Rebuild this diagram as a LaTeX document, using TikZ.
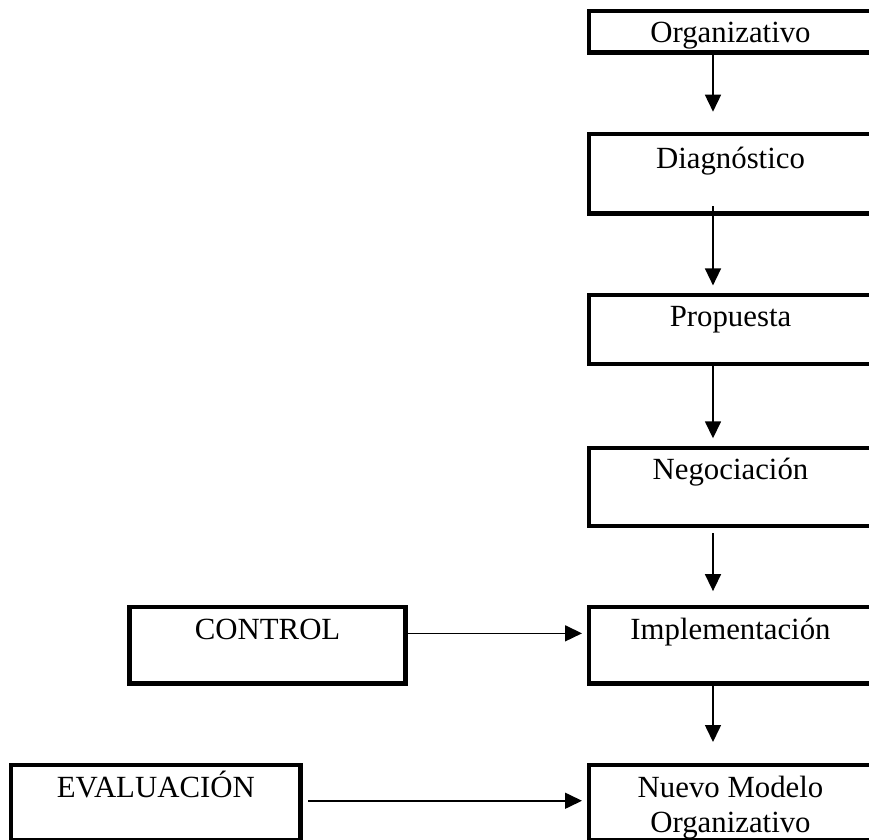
\documentclass[tikz,border=0pt]{standalone}
\usepackage{fontspec}
\setmainfont{Liberation Serif}
\usetikzlibrary{positioning, arrows.meta}
\tikzstyle{stage} = [
    rectangle,
    draw=black,
    line width=2.2pt,
    minimum width=141.5pt,
    inner ysep=0pt,
    text height=16pt,
    text depth=22.5pt,
    align=center,
    font=\fontsize{15.4pt}{17.5pt}\selectfont
]
\tikzstyle{arrow} = [line width=0.8pt,-{Triangle[length=8.5pt,width=8pt]}]

\begin{document}
\begin{tikzpicture}[node distance=38.5pt]
\useasboundingbox (0,0) rectangle (434.5pt,-420pt);
\clip (0,0) rectangle (434.5pt,-420pt);

\node (organizativo) [stage, text depth=4.75pt, anchor=north west] at (293.4pt,-4.4pt)
{Organizativo};

\node (diagnostico) [stage, text height=17.5pt, text depth=22.25pt, below=of organizativo]
{Diagnóstico};

\node (propuesta) [stage, text depth=18.75pt, below=of diagnostico]
{Propuesta};

\node (negociacion) [stage, text depth=23pt, below=39.5pt of propuesta]
{Negociación};

\node (implementacion) [stage, text depth=22.25pt, below=of negociacion]
{Implementación};

\node (nuevo) [stage, text height=33.5pt, text depth=4.25pt, below=of implementacion]
{Nuevo Modelo\\Organizativo};

\node (control) [stage, text depth=22.25pt, minimum width=138pt, left=89.5pt of implementacion]
{CONTROL};

\node (evaluacion) [stage, text depth=21.75pt, minimum width=144.75pt, left=142pt of nuevo]
{EVALUACIÓN};

\draw [arrow, shorten >=10pt] ([xshift=-8.75pt]organizativo.south) -- ([xshift=-8.75pt]diagnostico.north);
\draw [arrow, shorten <=-4.6pt, shorten >=3.6pt] ([xshift=-8.75pt]diagnostico.south) -- ([xshift=-8.75pt]propuesta.north);
\draw [arrow, shorten <=-2pt, shorten >=3.6pt] ([xshift=-8.75pt]propuesta.south) -- ([xshift=-8.75pt]negociacion.north);
\draw [arrow, shorten <=2.6pt, shorten >=6.9pt] ([xshift=-8.75pt]negociacion.south) -- ([xshift=-8.75pt]implementacion.north);
\draw [arrow, shorten >=10.4pt] ([xshift=-8.75pt]implementacion.south) -- ([xshift=-8.75pt]nuevo.north);
\draw [arrow, shorten >=2.4pt] ([yshift=6pt]control.east) -- ([yshift=6pt]implementacion.west);
\draw [arrow, shorten <=2.6pt, shorten >=2.4pt] ([yshift=1pt]evaluacion.east) -- ([yshift=1pt]nuevo.west);

\end{tikzpicture}
\end{document}
